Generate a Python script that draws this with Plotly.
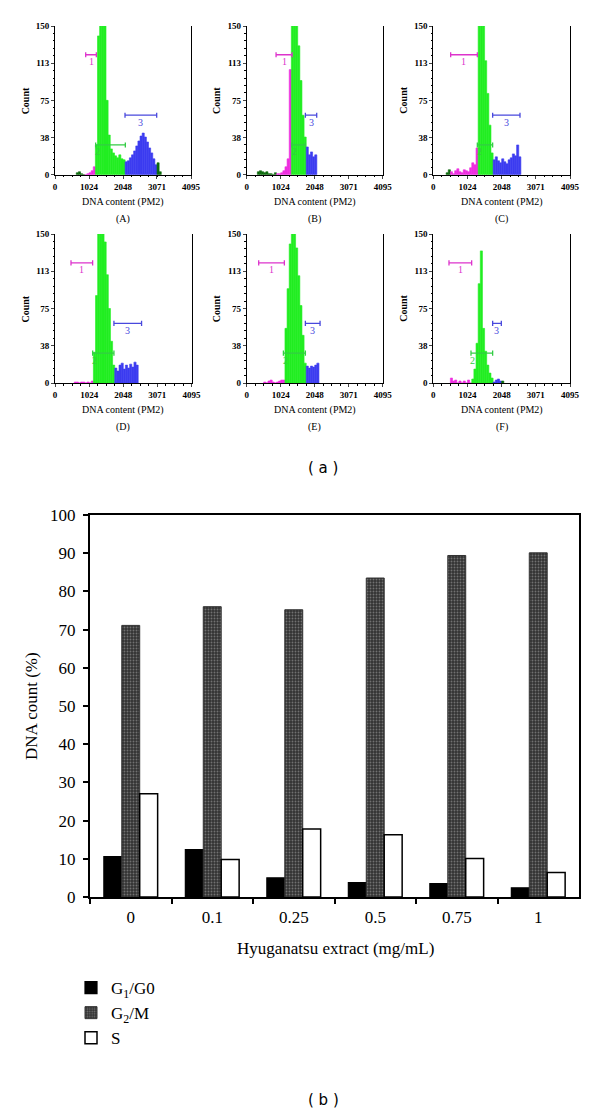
import plotly.graph_objects as go

W, H = 600, 1116
BIN = 64

# ---------------- histogram data (counts per 64-channel bin) ----------------
A_start = 640
A_counts = [2, 3, 1, 0, 0, 1, 2, 4, 8, 30, 140, 200, 210, 150, 75, 40, 26, 22, 19, 17,
            20, 16, 15, 13, 14, 17, 20, 24, 29, 34, 39, 42, 38, 33, 27, 22, 16, 10, 12, 3]
B_start = 320
B_counts = [3, 4, 3, 2, 3, 1, 1, 0, 2, 1, 1, 2, 4, 8, 16, 106, 200, 220, 165, 130,
            95, 60, 38, 28, 20, 23, 18, 20]
C_start = 384
C_counts = [2, 5, 3, 1, 4, 6, 3, 2, 5, 4, 3, 7, 12, 10, 27, 200, 210, 150, 115, 82,
            50, 22, 15, 18, 14, 12, 16, 13, 11, 15, 17, 21, 19, 30, 18]
D_start = 576
D_counts = [1, 1, 0, 1, 1, 0, 1, 0, 2, 31, 88, 150, 220, 230, 142, 109, 75, 42, 18, 15,
            12, 18, 20, 14, 18, 15, 19, 16, 21, 18]
E_start = 512
E_counts = [1, 0, 2, 3, 1, 0, 1, 2, 3, 3, 55, 95, 140, 220, 210, 136, 108, 78, 48, 20,
            17, 15, 17, 16, 18, 20]
F_start = 512
F_counts = [5, 2, 3, 0, 2, 0, 2, 0, 3, 0, 4, 14, 40, 100, 133, 55, 32, 18, 10, 5,
            1, 3, 4, 2, 2]

# marker regions (gates) in channel units: region 1, 2, 3
A_gates = [(924, 1245), (1225, 2118), (2108, 3062)]
B_gates = [(884, 1365), (1365, 1767), (1767, 2108)]
C_gates = [(520, 1319), (1319, 1778), (1778, 2597)]
D_gates = [(480, 1129), (1130, 1768), (1768, 2597)]
E_gates = [(361, 1134), (1105, 1767), (1767, 2209)]
F_gates = [(470, 1149), (1129, 1778), (1778, 2038)]

panel_names = ["(A)", "(B)", "(C)", "(D)", "(E)", "(F)"]
x_ticks = [0, 1024, 2048, 3071, 4095]
y_tickvals = [0, 37.5, 75, 112.5, 150]
y_ticktext = ["0", "38", "75", "113", "150"]

# ---------------- bar chart data ----------------
doses = ["0", "0.1", "0.25", "0.5", "0.75", "1"]
g1_g0 = [10.6, 12.4, 5.0, 3.8, 3.5, 2.4]
g2_m = [71.1, 76.0, 75.2, 83.5, 89.4, 90.1]
s_phase = [27.0, 9.8, 17.8, 16.3, 10.1, 6.4]

# ---------------- styling ----------------
MAG = "#ee2ee0"
GRN = "#22ee22"
BLU = "#3c3cf0"
DKG = "#0c6a0c"
GATE_COL = ["#dd33cc", "#33cc44", "#4848dd"]
GATE_Y = [121, 30, 60]
SERIF = "Liberation Serif"

def px_x(p):
    return p / W

def px_y(p):
    return 1 - p / H

# panel boxes in pixels: (x0, x1, ytop, ybottom)
boxes = [
    (55, 191, 26, 174.7), (246.7, 382.7, 26, 174.7), (433.3, 570, 26, 174.7),
    (55, 191.5, 234, 383), (246.7, 382.7, 234, 383), (433.3, 570, 234, 383),
]
starts = [A_start, B_start, C_start, D_start, E_start, F_start]
counts = [A_counts, B_counts, C_counts, D_counts, E_counts, F_counts]
gates = [A_gates, B_gates, C_gates, D_gates, E_gates, F_gates]

fig = go.Figure()
annotations = []
layout = {}

for i in range(6):
    k = i + 1
    xa = "x" if k == 1 else f"x{k}"
    ya = "y" if k == 1 else f"y{k}"
    st, cn, gt = starts[i], counts[i], gates[i]
    lefts = [st + BIN * j for j in range(len(cn))]
    cols = []
    for L in lefts:
        c = L + BIN / 2
        if gt[0][0] <= c <= gt[0][1]:
            cols.append(MAG)
        elif gt[2][0] <= c <= gt[2][1]:
            cols.append(BLU)
        elif gt[1][0] <= c <= gt[1][1]:
            cols.append(GRN)
        else:
            cols.append(DKG)
    fig.add_trace(go.Bar(x=lefts, y=cn, width=BIN, offset=0,
                         marker=dict(color=cols, line=dict(width=0.6, color=cols)),
                         xaxis=xa, yaxis=ya, showlegend=False, hoverinfo="skip"))
    # gate brackets
    for g in range(3):
        lo, hi = gt[g]
        yv = GATE_Y[g]
        fig.add_trace(go.Scatter(
            x=[lo, lo, None, lo, hi, None, hi, hi],
            y=[yv - 2.6, yv + 2.6, None, yv, yv, None, yv - 2.6, yv + 2.6],
            mode="lines", line=dict(color=GATE_COL[g], width=1.3),
            xaxis=xa, yaxis=ya, showlegend=False, hoverinfo="skip"))
        lx = (lo + hi) / 2 if g != 1 else lo + 60
        annotations.append(dict(x=lx, y=yv, xref=xa, yref=ya, yshift=-7, text=str(g + 1),
                                xanchor="center", yanchor="middle",
                                showarrow=False, font=dict(family=SERIF, size=10, color=GATE_COL[g])))
    x0, x1, yt, yb = boxes[i]
    axis_key = "xaxis" if k == 1 else f"xaxis{k}"
    yaxis_key = "yaxis" if k == 1 else f"yaxis{k}"
    layout[axis_key] = dict(domain=[px_x(x0), px_x(x1)], anchor=ya, range=[0, 4095], automargin=False,
                            tickvals=x_ticks, ticks="outside", ticklen=3, tickwidth=1,
                            showline=True, linecolor="black", linewidth=1, showgrid=False,
                            zeroline=False, tickfont=dict(family=SERIF, size=9, color="black", weight="bold"),
                            minor=dict(dtick=256, tick0=0, ticks="outside", ticklen=1.5, tickcolor="black", showgrid=False),
                            fixedrange=True)
    layout[yaxis_key] = dict(domain=[px_y(yb), px_y(yt)], anchor=xa, range=[0, 150], automargin=False,
                             tickvals=y_tickvals, ticktext=y_ticktext, ticks="outside", ticklen=3, tickwidth=1,
                             showline=True, linecolor="black", linewidth=1, mirror=True, showgrid=False,
                             zeroline=False, tickfont=dict(family=SERIF, size=9, color="black", weight="bold"),
                             minor=dict(dtick=7.5, tick0=0, ticks="outside", ticklen=1.5, tickcolor="black", showgrid=False),
                             fixedrange=True)
    xd = f"{xa} domain"
    yd = f"{ya} domain"
    annotations.append(dict(x=0, y=0.5, xref=xd, yref=yd, xshift=-30, textangle=-90, text="Count",
                            xanchor="center", yanchor="middle",
                            showarrow=False, font=dict(family=SERIF, size=10, color="black", weight="bold")))
    annotations.append(dict(x=0.5, y=0, xref=xd, yref=yd, yshift=-27, xanchor="center", yanchor="middle",
                            text="DNA content (PM2)",
                            showarrow=False, font=dict(family=SERIF, size=10, color="black")))
    annotations.append(dict(x=0.5, y=0, xref=xd, yref=yd, yshift=-44, xanchor="center", yanchor="middle",
                            text=panel_names[i],
                            showarrow=False, font=dict(family=SERIF, size=10, color="black")))

# ---------------- bar chart ----------------
fig.add_trace(go.Bar(x=doses, y=g1_g0, name="G<sub>1</sub>/G0", xaxis="x7", yaxis="y7",
                     marker=dict(color="black", line=dict(color="black", width=1.2)), hoverinfo="skip"))
fig.add_trace(go.Bar(x=doses, y=g2_m, name="G<sub>2</sub>/M", xaxis="x7", yaxis="y7",
                     marker=dict(color="#333333", line=dict(color="#333333", width=1),
                                 pattern=dict(shape=".", fgcolor="#b0b0b0", size=3, solidity=0.3, fillmode="overlay")),
                     hoverinfo="skip"))
fig.add_trace(go.Bar(x=doses, y=s_phase, name="S", xaxis="x7", yaxis="y7",
                     marker=dict(color="white", line=dict(color="black", width=1.5)), hoverinfo="skip"))

layout["xaxis7"] = dict(domain=[px_x(90), px_x(579)], anchor="y7", type="category", automargin=False,
                        showline=True, linecolor="black", linewidth=2, mirror=True,
                        ticks="outside", ticklen=5, tickwidth=1.5, tickcolor="black", tickson="boundaries",
                        showgrid=False, tickfont=dict(family=SERIF, size=17, color="black"),
                        ticklabelstandoff=4, fixedrange=True)
layout["yaxis7"] = dict(domain=[px_y(897), px_y(515)], anchor="x7", range=[0, 100], dtick=10, automargin=False,
                        showline=True, linecolor="black", linewidth=2, mirror=True,
                        ticks="outside", ticklen=5, tickwidth=1.5, tickcolor="black",
                        showgrid=False, zeroline=False, tickfont=dict(family=SERIF, size=17, color="black"),
                        ticklabelstandoff=4, fixedrange=True)

annotations.append(dict(x=px_x(31), y=px_y(706), xref="paper", yref="paper", textangle=-90,
                        xanchor="center", yanchor="middle",
                        text="DNA count (%)", showarrow=False, font=dict(family=SERIF, size=17, color="black")))
annotations.append(dict(x=px_x(335), y=px_y(948), xref="paper", yref="paper",
                        xanchor="center", yanchor="middle",
                        text="Hyuganatsu extract (mg/mL)", showarrow=False,
                        font=dict(family=SERIF, size=17, color="black")))
annotations.append(dict(x=px_x(323), y=px_y(468), xref="paper", yref="paper", text="( a )",
                        xanchor="center", yanchor="middle",
                        showarrow=False, font=dict(family="DejaVu Sans", size=15, color="black")))
annotations.append(dict(x=px_x(323), y=px_y(1100), xref="paper", yref="paper", text="( b )",
                        xanchor="center", yanchor="middle",
                        showarrow=False, font=dict(family="DejaVu Sans", size=15, color="black")))

fig.update_layout(
    width=W, height=H, margin=dict(l=0, r=0, t=0, b=0, autoexpand=False),
    paper_bgcolor="white", plot_bgcolor="white",
    barmode="group", bargap=0.34, bargroupgap=0,
    showlegend=True,
    legend=dict(x=px_x(71), y=px_y(970), xanchor="left", yanchor="top",
                font=dict(family=SERIF, size=17, color="black"), bgcolor="rgba(0,0,0,0)",
                tracegroupgap=0, itemwidth=30),
    annotations=annotations,
    **layout,
)

fig.write_html("out.html", config={"displayModeBar": False},
               post_script="document.body.style.margin='0px';")
